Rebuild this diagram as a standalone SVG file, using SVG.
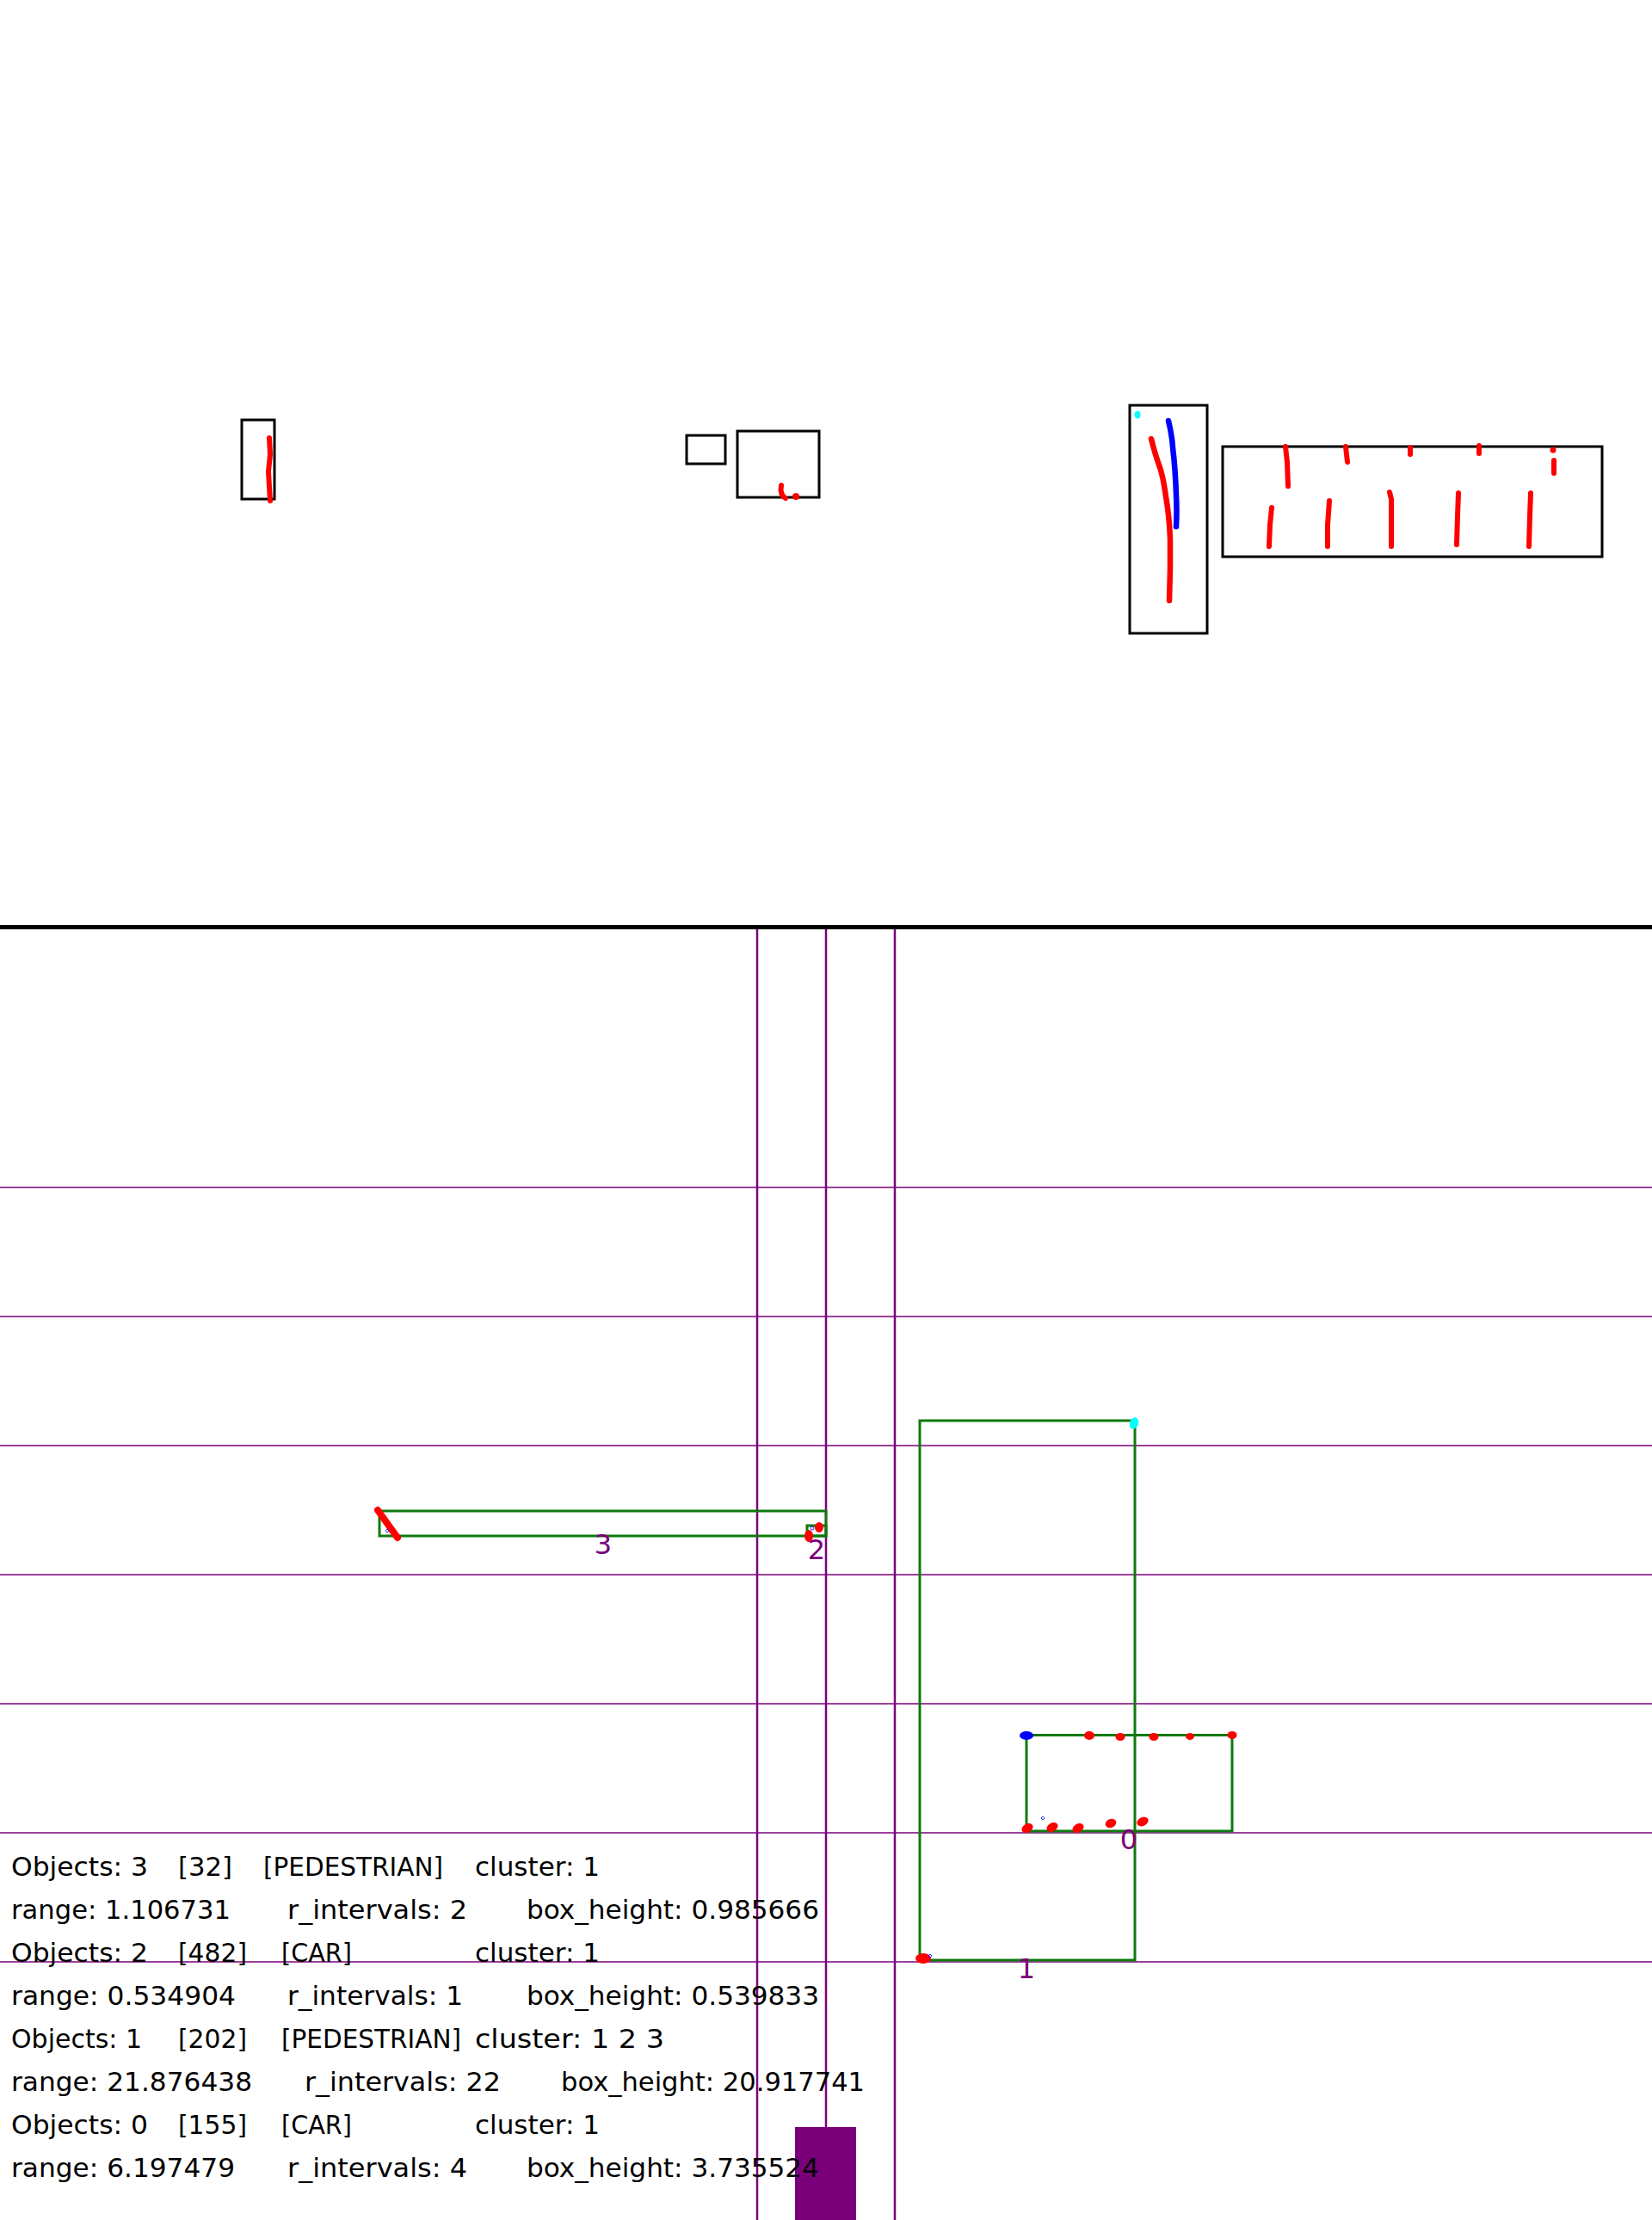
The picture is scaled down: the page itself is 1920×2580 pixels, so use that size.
<svg xmlns="http://www.w3.org/2000/svg" width="1920" height="2580" viewBox="0 0 1920 2580">
<style>
.bk{fill:none;stroke:#000;stroke-width:3}
.gr{fill:none;stroke:#0e7a0e;stroke-width:3}
.hl{stroke:#7a007a;stroke-width:1.5}
.vl{stroke:#7a007a;stroke-width:2.5}
.rd{fill:none;stroke:#f00;stroke-width:6;stroke-linecap:round;stroke-linejoin:round}
.bl{fill:none;stroke:#00f;stroke-width:6.5;stroke-linecap:round;stroke-linejoin:round}
.rf{fill:#f00}
.bf{fill:#00f}
.cf{fill:#0ff}
.dm{fill:none;stroke:#00f;stroke-width:0.8}
.t{font-family:"DejaVu Sans",sans-serif;font-size:30px;fill:#000}
.lb{font-family:"DejaVu Sans",sans-serif;font-size:32px;fill:#7a007a;text-anchor:middle}
</style>
<rect width="1920" height="2580" fill="#fff"/>

<g id="top-view">
  <g id="top-box-a">
    <rect class="bk" x="281" y="488" width="38" height="92"/>
    <path class="rd" d="M313,509 L314,528 L312,548 L313,566 L314,582"/>
  </g>
  <g id="top-box-b">
    <rect class="bk" x="798" y="506" width="45" height="33"/>
  </g>
  <g id="top-box-c">
    <rect class="bk" x="857" y="501" width="95" height="77"/>
    <path class="rd" d="M908,564 Q906,575 913,579"/>
    <circle class="rf" cx="925" cy="577" r="4"/>
  </g>
  <g id="top-box-d">
    <rect class="bk" x="1313" y="471" width="90" height="265"/>
    <ellipse class="cf" cx="1322" cy="482" rx="3.5" ry="4.5"/>
    <path class="bl" d="M1358,489 Q1362,505 1363,520 Q1366,545 1367,575 Q1368,595 1367,612"/>
    <path class="rd" style="stroke-width:6.5" d="M1338,510 Q1343,530 1348,543 Q1352,555 1355,577 Q1359,600 1360,627 L1360,660 L1359,698"/>
  </g>
  <g id="top-box-e">
    <rect class="bk" x="1421" y="519" width="441" height="128"/>
    <path class="rd" d="M1494,519 L1496,537 L1497,565"/>
    <path class="rd" d="M1564,519 L1566,537"/>
    <path class="rd" d="M1639,520 L1639,528"/>
    <path class="rd" d="M1719,518 L1719,527"/>
    <circle class="rf" cx="1805" cy="523" r="3.5"/>
    <path class="rd" d="M1806,535 L1806,550"/>
    <path class="rd" d="M1478,590 L1476,610 L1475,635"/>
    <path class="rd" d="M1545,582 L1543,610 L1543,635"/>
    <path class="rd" d="M1615,572 L1617,580 L1617,635"/>
    <path class="rd" d="M1695,573 L1694,600 L1693,633"/>
    <path class="rd" d="M1779,573 L1778,600 L1777,635"/>
  </g>
</g>

<g id="grid">
  <line x1="0" y1="1077.5" x2="1920" y2="1077.5" stroke="#000" stroke-width="5"/>
  <line class="hl" x1="0" y1="1380" x2="1920" y2="1380"/>
  <line class="hl" x1="0" y1="1530" x2="1920" y2="1530"/>
  <line class="hl" x1="0" y1="1680" x2="1920" y2="1680"/>
  <line class="hl" x1="0" y1="1830" x2="1920" y2="1830"/>
  <line class="hl" x1="0" y1="1980" x2="1920" y2="1980"/>
  <line class="hl" x1="0" y1="2130" x2="1920" y2="2130"/>
  <line class="hl" x1="0" y1="2280" x2="1920" y2="2280"/>
  <line class="vl" x1="880" y1="1080" x2="880" y2="2580"/>
  <line class="vl" x1="960" y1="1080" x2="960" y2="2580"/>
  <line class="vl" x1="1040" y1="1080" x2="1040" y2="2580"/>
  <rect x="924" y="2472" width="71" height="108" fill="#7a007a"/>
</g>

<g id="object-3">
  <rect class="gr" x="441" y="1756" width="519" height="29"/>
  <path class="rd" style="stroke-width:8" d="M439,1755 L449,1769 L462,1787"/>
  <path class="dm" d="M450,1777 L452,1779 L450,1781 L448,1779 Z"/>
  <text class="lb" x="701" y="1806">3</text>
</g>

<g id="object-2">
  <rect class="gr" x="938" y="1773" width="22" height="12"/>
  <ellipse class="rf" cx="952" cy="1775" rx="5" ry="6"/>
  <ellipse class="rf" cx="940" cy="1785" rx="5" ry="7"/>
  <circle class="dm" cx="944" cy="1776" r="2"/>
  <text class="lb" x="949" y="1812">2</text>
</g>

<g id="object-1">
  <rect class="gr" x="1069" y="1651" width="250" height="627"/>
  <ellipse class="cf" cx="1318" cy="1654" rx="5" ry="7" transform="rotate(20 1318 1654)"/>
  <ellipse class="rf" cx="1073" cy="2276" rx="9" ry="6"/>
  <path class="dm" d="M1081,2271 L1083,2273 L1081,2275 L1079,2273 Z"/>
  <text class="lb" x="1193" y="2299">1</text>
</g>

<g id="object-0">
  <rect class="gr" x="1193" y="2016.5" width="239" height="111.5"/>
  <ellipse class="bf" cx="1193" cy="2017" rx="8" ry="5"/>
  <ellipse class="rf" cx="1266" cy="2017" rx="6" ry="5"/>
  <ellipse class="rf" cx="1302" cy="2018.5" rx="5.5" ry="4.5"/>
  <ellipse class="rf" cx="1341" cy="2018.5" rx="5.5" ry="4.5"/>
  <ellipse class="rf" cx="1383" cy="2018" rx="5" ry="4"/>
  <ellipse class="rf" cx="1432" cy="2016.5" rx="5.5" ry="4.5"/>
  <ellipse class="rf" cx="1194" cy="2124.5" rx="7" ry="5" transform="rotate(-30 1194 2124.5)"/>
  <ellipse class="rf" cx="1223" cy="2123.5" rx="7" ry="5" transform="rotate(-30 1223 2123.5)"/>
  <ellipse class="rf" cx="1253" cy="2124.5" rx="7" ry="5" transform="rotate(-30 1253 2124.5)"/>
  <ellipse class="rf" cx="1291" cy="2119" rx="6.5" ry="5" transform="rotate(-20 1291 2119)"/>
  <ellipse class="rf" cx="1328" cy="2117" rx="7" ry="5" transform="rotate(-25 1328 2117)"/>
  <path class="dm" d="M1212,2111 L1214,2113 L1212,2115 L1210,2113 Z"/>
  <text class="lb" x="1312" y="2149">0</text>
</g>

<g id="info-text">
  <text class="t" x="13" y="2180" textLength="159" lengthAdjust="spacingAndGlyphs">Objects: 3</text>
  <text class="t" x="207" y="2180" textLength="63" lengthAdjust="spacingAndGlyphs">[32]</text>
  <text class="t" x="306" y="2180" textLength="209" lengthAdjust="spacingAndGlyphs">[PEDESTRIAN]</text>
  <text class="t" x="552" y="2180" textLength="145" lengthAdjust="spacingAndGlyphs">cluster: 1</text>

  <text class="t" x="13" y="2230" textLength="255" lengthAdjust="spacingAndGlyphs">range: 1.106731</text>
  <text class="t" x="334" y="2230" textLength="209" lengthAdjust="spacingAndGlyphs">r_intervals: 2</text>
  <text class="t" x="612" y="2230" textLength="340" lengthAdjust="spacingAndGlyphs">box_height: 0.985666</text>

  <text class="t" x="13" y="2280" textLength="159" lengthAdjust="spacingAndGlyphs">Objects: 2</text>
  <text class="t" x="207" y="2280" textLength="80" lengthAdjust="spacingAndGlyphs">[482]</text>
  <text class="t" x="327" y="2280" textLength="82" lengthAdjust="spacingAndGlyphs">[CAR]</text>
  <text class="t" x="552" y="2280" textLength="145" lengthAdjust="spacingAndGlyphs">cluster: 1</text>

  <text class="t" x="13" y="2330" textLength="261" lengthAdjust="spacingAndGlyphs">range: 0.534904</text>
  <text class="t" x="334" y="2330" textLength="204" lengthAdjust="spacingAndGlyphs">r_intervals: 1</text>
  <text class="t" x="612" y="2330" textLength="340" lengthAdjust="spacingAndGlyphs">box_height: 0.539833</text>

  <text class="t" x="13" y="2380" textLength="152" lengthAdjust="spacingAndGlyphs">Objects: 1</text>
  <text class="t" x="207" y="2380" textLength="80" lengthAdjust="spacingAndGlyphs">[202]</text>
  <text class="t" x="327" y="2380" textLength="209" lengthAdjust="spacingAndGlyphs">[PEDESTRIAN]</text>
  <text class="t" x="552" y="2380" textLength="220" lengthAdjust="spacingAndGlyphs">cluster: 1 2 3</text>

  <text class="t" x="13" y="2430" textLength="280" lengthAdjust="spacingAndGlyphs">range: 21.876438</text>
  <text class="t" x="354" y="2430" textLength="228" lengthAdjust="spacingAndGlyphs">r_intervals: 22</text>
  <text class="t" x="652" y="2430" textLength="353" lengthAdjust="spacingAndGlyphs">box_height: 20.917741</text>

  <text class="t" x="13" y="2480" textLength="159" lengthAdjust="spacingAndGlyphs">Objects: 0</text>
  <text class="t" x="207" y="2480" textLength="80" lengthAdjust="spacingAndGlyphs">[155]</text>
  <text class="t" x="327" y="2480" textLength="82" lengthAdjust="spacingAndGlyphs">[CAR]</text>
  <text class="t" x="552" y="2480" textLength="145" lengthAdjust="spacingAndGlyphs">cluster: 1</text>

  <text class="t" x="13" y="2530" textLength="260" lengthAdjust="spacingAndGlyphs">range: 6.197479</text>
  <text class="t" x="334" y="2530" textLength="209" lengthAdjust="spacingAndGlyphs">r_intervals: 4</text>
  <text class="t" x="612" y="2530" textLength="340" lengthAdjust="spacingAndGlyphs">box_height: 3.735524</text>
</g>
</svg>
